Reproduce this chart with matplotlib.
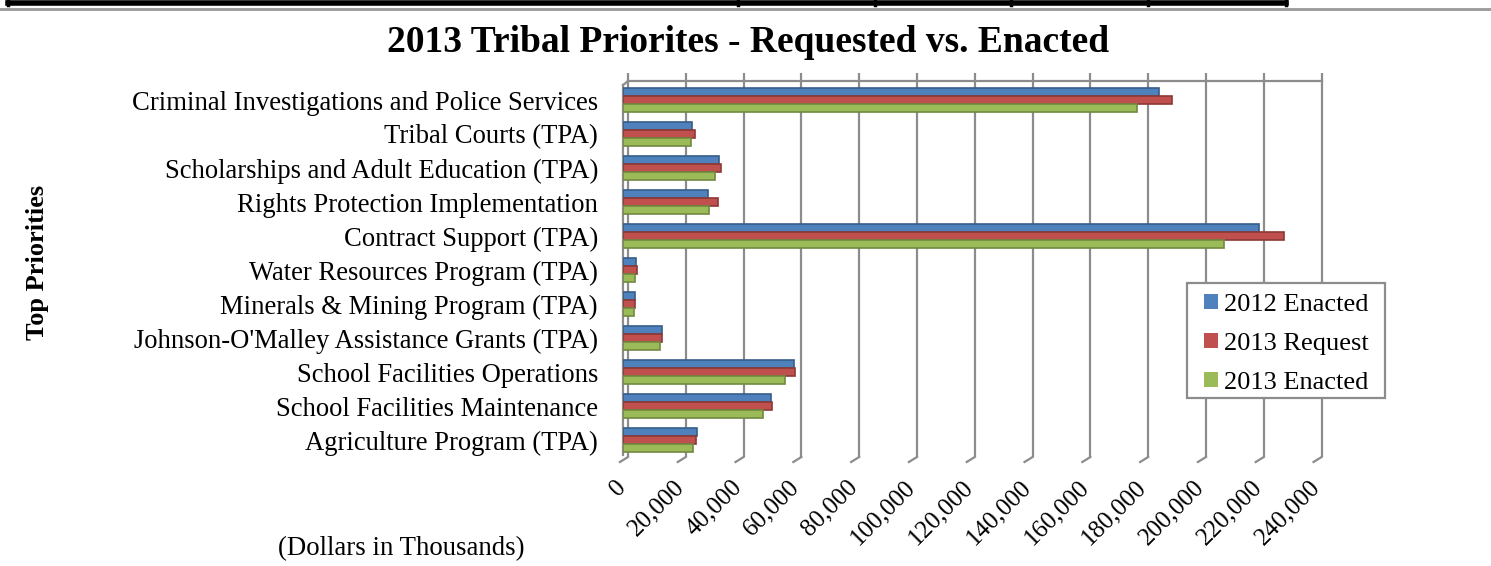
import matplotlib.pyplot as plt
import matplotlib.transforms as mtransforms
from matplotlib.lines import Line2D
from matplotlib.patches import Rectangle
import numpy as np

plt.rcParams['font.family'] = ['Liberation Serif', 'DejaVu Serif']

# values in thousands of dollars
categories = ['Criminal Investigations and Police Services',
              'Tribal Courts (TPA)',
              'Scholarships and Adult Education (TPA)',
              'Rights Protection Implementation',
              'Contract Support (TPA)',
              'Water Resources Program (TPA)',
              'Minerals & Mining Program (TPA)',
              "Johnson-O'Malley Assistance Grants (TPA)",
              'School Facilities Operations',
              'School Facilities Maintenance',
              'Agriculture Program (TPA)']
enacted_2012 = [185500, 23800, 33200, 29400, 219900, 4400, 4200, 13600, 59100, 51100, 25700]
request_2013 = [190100, 24900, 33800, 33000, 228600, 4700, 4100, 13600, 59400, 51600, 25200]
enacted_2013 = [177900, 23500, 31900, 29900, 208100, 4300, 3800, 12800, 56100, 48600, 24300]
series_names = ['2012 Enacted', '2013 Request', '2013 Enacted']
colors = ['#4F81BD', '#C0504D', '#9BBB59']
edges = ['#385D8A', '#8C3836', '#71893F']
xticks = np.arange(0, 240001, 20000)

W, H = 1491, 566
fig = plt.figure(figsize=(W / 100, H / 100), dpi=100)
ax = fig.add_axes([623 / W, 111 / H, 693.6 / W, 374 / H])

y = np.arange(len(categories))
h = 0.23
for i, (vals, c, ec, name) in enumerate(zip([enacted_2012, request_2013, enacted_2013],
                                             colors, edges, series_names)):
    ax.barh(y + (i - 1) * h, vals, height=h, color=c, edgecolor=ec,
            linewidth=1.2, label=name, zorder=3)

ax.set_xlim(0, 240000)
ax.set_ylim(10.44, -0.56)
ax.set_yticks(y)
ax.set_yticklabels(categories, fontsize=19.2)
ax.set_xticks(xticks)
ax.set_xticklabels([])
ax.tick_params(axis='y', length=0, pad=18)
ax.tick_params(axis='x', length=0)
for s in ['top', 'right', 'bottom']:
    ax.spines[s].set_visible(False)
ax.spines['left'].set_color('#8c8c8c')
ax.spines['left'].set_linewidth(1.6)
ax.spines['left'].set_bounds(10.44, -0.45)

# rotated value labels under the floor
lab_off = ax.get_xaxis_transform() + mtransforms.ScaledTranslation(
    -8 / 100, -21 / 100, fig.dpi_scale_trans)
for v in xticks:
    ax.text(v, 0, '{:,}'.format(v), transform=lab_off, rotation=45,
            rotation_mode='anchor', ha='right', va='top', fontsize=18)

# back wall of the 3-D plot area, drawn a few pixels to the right
shift = mtransforms.ScaledTranslation(5 / 100, 0, fig.dpi_scale_trans)
wall = ax.get_xaxis_transform() + shift
grey = '#8c8c8c'
ax.vlines(xticks, -2 / 374, 1 + 8 / 374, transform=wall, color=grey,
          linewidth=1.6, zorder=0, clip_on=False)
ax.plot([0, 240000], [1, 1], transform=wall, color=grey, linewidth=1.6,
        zorder=0, clip_on=False)
for v in xticks:
    ax.plot([v, v - 2800], [-2 / 374, -7 / 374], transform=wall, color=grey,
            linewidth=1.6, clip_on=False)
ax.plot([-1700, 0], [1 - 4 / 374, 1], transform=wall, color=grey,
        linewidth=1.6, clip_on=False)

fig.text(748 / W, 1 - 52.3 / H, '2013 Tribal Priorites - Requested vs. Enacted',
         fontsize=27, fontweight='bold', ha='center', va='baseline')
fig.text(38 / W, 1 - 262 / H, 'Top Priorities', rotation=90, fontsize=19,
         fontweight='bold', ha='center', va='center')
fig.text(278 / W, 1 - 549 / H, '(Dollars in Thousands)', fontsize=19.3,
         ha='left', va='center')

# legend: frame drawn separately so its padding can match the original
ax.add_patch(Rectangle((1187 / W, 1 - 398 / H), 198 / W, 115 / H,
                       transform=fig.transFigure, facecolor='white',
                       edgecolor=grey, linewidth=1.6, zorder=4, clip_on=False))
leg = ax.legend(loc='upper left', bbox_to_anchor=(1196 / W, 1 - 286 / H),
                bbox_transform=fig.transFigure, fontsize=19, frameon=False,
                handlelength=0.53, handleheight=0.53,
                handletextpad=0.25, labelspacing=0.64, borderpad=0.29,
                borderaxespad=0)
leg.set_zorder(5)
for p in leg.get_patches():
    p.set_edgecolor('none')

# fragment of the table above the chart
for x0, x1, yy, lw, c in [(8, 1286, 563, 4, 'black'), (0, 1491, 557, 2, '#999999')]:
    fig.add_artist(Line2D([x0 / W, x1 / W], [yy / H, yy / H], color=c, linewidth=lw))
for xv in [8, 738, 875, 1011, 1148, 1286]:
    fig.add_artist(Line2D([xv / W, xv / W], [561 / H, 1], color='black', linewidth=2.5))

fig.savefig('out.png', dpi=100)
